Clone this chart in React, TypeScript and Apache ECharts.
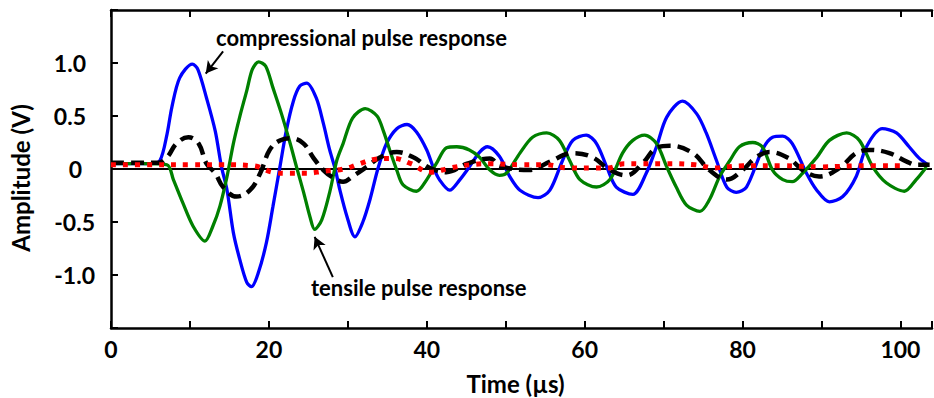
import React, { useEffect, useRef } from "react";
import * as echarts from "echarts";

// Time (µs), amplitude (V) pairs
const compressionalT = [0, 3, 5, 6.2, 7.1, 7.7, 8.7, 10.3, 11, 12.1, 13.2, 14.0, 14.7, 15.5, 16.3, 17.2, 17.8, 18.7, 19.7, 20.5, 21.4, 22.2, 23.1, 23.9, 24.8, 26, 26.9, 27.7, 28.4, 29, 29.9, 30.9, 31.9, 32.8, 33.8, 34.9, 36.2, 37.5, 38.7, 40, 40.8, 41.6, 42.9, 44.2, 45.4, 46.7, 47.7, 49.2, 50.5, 51.8, 54.1, 55.6, 57.2, 58.5, 60.2, 61.5, 62.8, 64, 66.1, 67.8, 69.1, 70.4, 72.4, 74.2, 75.4, 76.7, 78, 79.2, 80.5, 82.5, 83.8, 85.1, 86.3, 88.1, 89.4, 91, 92.7, 94.4, 95.7, 97.7, 99.5, 101.1, 102.4, 103.5];
const compressionalV = [0.05, 0.05, 0.05, 0.08, 0.33, 0.58, 0.86, 0.99, 0.94, 0.67, 0.36, 0.02, -0.2, -0.6, -0.85, -1.07, -1.11, -0.97, -0.69, -0.36, 0.02, 0.36, 0.64, 0.78, 0.81, 0.67, 0.43, 0.18, 0.0, -0.2, -0.45, -0.64, -0.5, -0.29, 0.0, 0.24, 0.38, 0.42, 0.35, 0.18, 0.02, -0.1, -0.2, -0.1, 0.02, 0.16, 0.21, 0.12, -0.07, -0.2, -0.27, -0.2, 0.08, 0.27, 0.32, 0.24, 0.02, -0.17, -0.24, -0.04, 0.21, 0.49, 0.64, 0.52, 0.34, 0.08, -0.17, -0.22, -0.17, 0.18, 0.3, 0.31, 0.24, -0.04, -0.2, -0.31, -0.26, -0.07, 0.21, 0.38, 0.34, 0.21, 0.1, 0.04];

const tensileT = [0, 4, 7.1, 7.9, 9.1, 10.4, 11.9, 12.9, 13.8, 14.7, 15.5, 16.3, 17.2, 17.9, 18.7, 19.6, 20.5, 21.6, 22.7, 23.5, 24.4, 25.2, 25.8, 26.7, 27.7, 28.6, 29.4, 30.6, 32.2, 33.7, 34.5, 35.3, 36.2, 37, 38.7, 40, 41.2, 42.5, 43.8, 45.4, 46.7, 48, 49.2, 50.1, 51.8, 53.4, 55.2, 56.8, 58.1, 59.4, 61.5, 63.2, 64.8, 66.1, 67.6, 69.1, 70.4, 71.6, 72.9, 74.6, 75.8, 77.1, 78.4, 79.6, 81.3, 82.5, 83.8, 85.1, 86.3, 87.6, 89.4, 91, 93.2, 94.8, 96.5, 98.2, 100.5, 102, 103.3];
const tensileV = [0.05, 0.05, 0.04, -0.1, -0.32, -0.54, -0.68, -0.54, -0.35, -0.07, 0.24, 0.49, 0.74, 0.94, 1.01, 0.97, 0.77, 0.52, 0.24, 0.02, -0.22, -0.45, -0.57, -0.48, -0.22, 0.08, 0.24, 0.48, 0.57, 0.5, 0.36, 0.18, -0.01, -0.15, -0.21, -0.1, 0.05, 0.2, 0.21, 0.18, 0.11, -0.01, -0.06, -0.04, 0.15, 0.3, 0.34, 0.27, 0.08, -0.1, -0.17, -0.1, 0.15, 0.27, 0.32, 0.24, 0.02, -0.17, -0.34, -0.4, -0.29, -0.07, 0.08, 0.21, 0.25, 0.21, -0.01, -0.1, -0.12, -0.04, 0.11, 0.27, 0.34, 0.27, 0.02, -0.13, -0.21, -0.1, 0.02];

const dashedT = [0, 3, 6, 7.1, 8.3, 9.8, 11.1, 12.1, 13.2, 14.2, 15.9, 17.6, 18.9, 20.1, 21.4, 22.9, 24.4, 25.6, 26.9, 28.1, 29.4, 30.6, 32.4, 34.1, 36.2, 38.3, 40.4, 42.5, 45.1, 48, 49.2, 53, 55.6, 58.5, 61, 63.2, 65.3, 67.4, 69.1, 70.8, 73.7, 75.8, 78, 80, 81.7, 83.4, 85.9, 87.6, 89.7, 92.3, 94.4, 96.1, 98.6, 100.8, 102, 103.7];
const dashedV = [0.06, 0.06, 0.06, 0.11, 0.24, 0.3, 0.24, 0.05, -0.04, -0.17, -0.26, -0.2, -0.04, 0.18, 0.27, 0.29, 0.24, 0.11, -0.01, -0.08, -0.12, -0.07, 0.02, 0.11, 0.16, 0.11, 0.01, -0.03, 0.05, 0.1, 0.03, -0.01, 0.07, 0.15, 0.11, -0.01, -0.06, 0.06, 0.2, 0.22, 0.15, -0.01, -0.1, -0.01, 0.11, 0.16, 0.1, -0.01, -0.07, 0.01, 0.15, 0.18, 0.15, 0.07, 0.04, 0.04];

const dottedT = [0, 5, 10, 14, 18, 20.5, 22.5, 24.8, 27, 29.5, 31.5, 33.3, 35.8, 38, 40.4, 43, 45.5, 48, 52, 55, 58, 61, 63, 65, 67, 70, 74, 76.5, 78, 80, 85, 90, 95, 100.5];
const dottedV = [0.04, 0.04, 0.04, 0.04, 0.03, -0.03, -0.04, -0.04, -0.02, 0.0, 0.05, 0.09, 0.1, 0.05, -0.03, 0.01, 0.04, 0.05, 0.04, 0.04, 0.01, 0.01, 0.01, 0.05, 0.05, 0.05, 0.04, 0.01, 0.02, 0.03, 0.03, 0.02, 0.03, 0.03];

const xTicks = [0, 20, 40, 60, 80, 100];
const yTicks = [-1.0, -0.5, 0, 0.5, 1.0];

const annotationTexts = ["compressional pulse response", "tensile pulse response"];
// arrow [tail, tip] in data coordinates
const compressionalArrow = [[14.2, 1.11], [12.0, 0.9]];
const tensileArrow = [[28.1, -1.02], [25.8, -0.64]];

const pairs = (t: number[], v: number[]) => t.map((x, i) => [x, v[i]]);

const FONT = "Lato";

export default function App() {
  const ref = useRef<HTMLDivElement>(null);
  useEffect(() => {
    document.body.style.margin = "0";
    const chart = echarts.init(ref.current!, null, { renderer: "svg" });
    const xAxisCommon = {
      type: "value",
      min: 0,
      max: 104,
      interval: 10,
      splitLine: { show: false },
      axisLine: { show: true, onZero: false, lineStyle: { color: "#000", width: 2.5 } },
      axisTick: { show: true, inside: true, length: 7, lineStyle: { color: "#000", width: 2 } },
    };
    chart.setOption({
      animation: false,
      backgroundColor: "#fff",
      grid: { left: 111, right: 2, top: 10, bottom: 70, containLabel: false, outerBoundsMode: "none" },
      xAxis: [
        {
          ...xAxisCommon,
          position: "bottom",
          name: "Time (µs)",
          nameLocation: "middle",
          nameGap: 43,
          nameTextStyle: { fontFamily: FONT, fontWeight: "bold", fontSize: 24, color: "#000", padding: [0, 12, 0, 0] },
          axisLabel: {
            show: true,
            margin: 9,
            fontFamily: FONT,
            fontWeight: "bold",
            fontSize: 23,
            color: "#000",
            formatter: (v: number) => (xTicks.includes(v) ? String(v) : ""),
          },
        },
        {
          ...xAxisCommon,
          position: "top",
          axisLabel: { show: false },
        },
      ],
      yAxis: {
        type: "value",
        min: -1.5,
        max: 1.5,
        interval: 0.5,
        splitLine: { show: false },
        axisLine: { show: true, onZero: false, lineStyle: { color: "#000", width: 2.5 } },
        axisTick: { show: true, inside: true, length: 7, lineStyle: { color: "#000", width: 2 } },
        name: "Amplitude (V)",
        nameLocation: "middle",
        nameGap: 79,
        nameTextStyle: { fontFamily: FONT, fontWeight: "bold", fontSize: 24, color: "#000", padding: [0, 18, 0, 0] },
        axisLabel: {
          show: true,
          margin: 16,
          align: "right",
          fontFamily: FONT,
          fontWeight: "bold",
          fontSize: 23,
          color: "#000",
          formatter: (v: number) => {
            const r = Math.round(v * 10) / 10;
            if (!yTicks.includes(r)) return "";
            if (r === 0) return "{z|0}";
            if (r > 0) return "{p|" + r.toFixed(1) + "}";
            return "{n|" + r.toFixed(1) + "}";
          },
          rich: {
            z: { fontFamily: FONT, fontWeight: "bold", fontSize: 23, color: "#000", padding: [0, 13, 0, 0] },
            p: { fontFamily: FONT, fontWeight: "bold", fontSize: 23, color: "#000", padding: [0, 9, 0, 0] },
            n: { fontFamily: FONT, fontWeight: "bold", fontSize: 23, color: "#000" },
          },
        },
      },
      series: [
        {
          type: "line",
          name: "zero",
          data: [[0, 0], [104, 0]],
          showSymbol: false,
          silent: true,
          lineStyle: { color: "#000", width: 2 },
          z: 1,
        },
        {
          type: "line",
          name: "compressional",
          data: pairs(compressionalT, compressionalV),
          showSymbol: false,
          smooth: 0.3,
          lineStyle: { color: "#0000ff", width: 3.3 },
          z: 2,
          markLine: {
            silent: true,
            symbol: ["none", "arrow"],
            symbolSize: [10, 12],
            label: { show: false },
            lineStyle: { color: "#000", width: 2, type: "solid" },
            data: [
              [{ coord: compressionalArrow[0] }, { coord: compressionalArrow[1] }],
              [{ coord: tensileArrow[0] }, { coord: tensileArrow[1] }],
            ],
          },
        },
        {
          type: "line",
          name: "tensile",
          data: pairs(tensileT, tensileV),
          showSymbol: false,
          smooth: 0.3,
          lineStyle: { color: "#008000", width: 3.3 },
          z: 3,
        },
        {
          type: "line",
          name: "dashed",
          data: pairs(dashedT, dashedV),
          showSymbol: false,
          smooth: 0.4,
          lineStyle: { color: "#000", width: 4.5, type: [13, 7], cap: "butt" },
          z: 4,
        },
        {
          type: "line",
          name: "dotted",
          data: pairs(dottedT, dottedV),
          showSymbol: false,
          smooth: 0.4,
          lineStyle: { color: "#ff0000", width: 5, type: [5, 7], cap: "butt" },
          z: 5,
        },
      ],
      graphic: [
        {
          type: "text",
          left: 216,
          top: 26,
          style: { text: annotationTexts[0], fontFamily: FONT, fontWeight: "bold", fontSize: 22, fill: "#000" },
        },
        {
          type: "text",
          left: 311,
          top: 276,
          style: { text: annotationTexts[1], fontFamily: FONT, fontWeight: "bold", fontSize: 22, fill: "#000" },
        },
      ],
    });
    return () => chart.dispose();
  }, []);
  return <div ref={ref} style={{ position: "fixed", left: 0, top: 0, width: 934, height: 398 }} />;
}
